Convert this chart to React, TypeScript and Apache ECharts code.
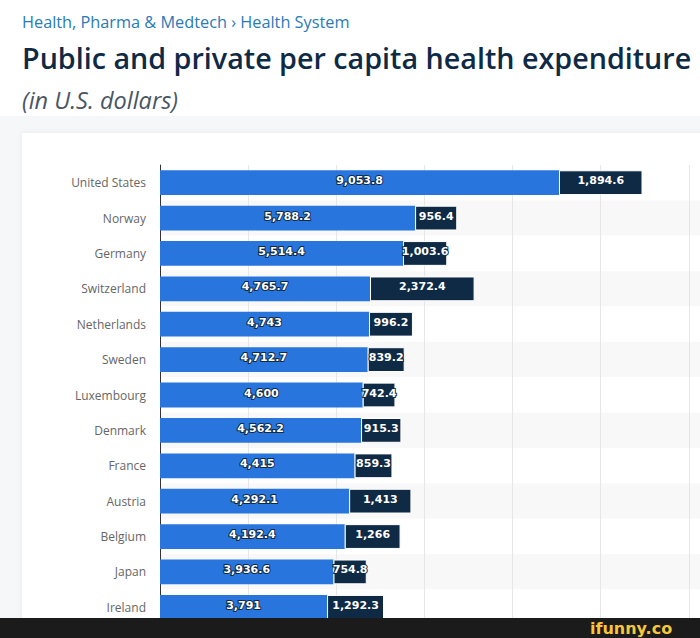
import React, { useEffect, useRef } from "react";
import * as echarts from "echarts";

const countries = [
  "United States", "Norway", "Germany", "Switzerland", "Netherlands", "Sweden",
  "Luxembourg", "Denmark", "France", "Austria", "Belgium", "Japan", "Ireland",
];
const publicSpend = [9053.8, 5788.2, 5514.4, 4765.7, 4743, 4712.7, 4600, 4562.2, 4415, 4292.1, 4192.4, 3936.6, 3791];
const privateSpend = [1894.6, 956.4, 1003.6, 2372.4, 996.2, 839.2, 742.4, 915.3, 859.3, 1413, 1266, 754.8, 1292.3];

const fmt = (v: number) => v.toLocaleString("en-US", { maximumFractionDigits: 1 });

const CHART_W = 780;

export default function App() {
  const ref = useRef<HTMLDivElement>(null);
  useEffect(() => {
    if (!ref.current) return;
    const chart = echarts.init(ref.current, null, { renderer: "svg" });
    const labelStyle = {
      show: true,
      position: "inside" as const,
      offset: [0, -2],
      color: "#ffffff",
      fontWeight: "bold" as const,
      fontSize: 11,
      fontFamily: "DejaVu Sans",
      textBorderColor: "#0f2a45",
      textBorderWidth: 2,
      formatter: (p: any) => fmt(p.value),
    };
    chart.setOption({
      animation: false,
      backgroundColor: "#ffffff",
      graphic: [
        { type: "rect", z: -20, shape: { x: 0, y: 116, width: CHART_W, height: 522 }, style: { fill: "#f5f7f9" } },
        {
          type: "rect", z: -19, shape: { x: 22, y: 133, width: CHART_W, height: 600 },
          style: { fill: "#ffffff", shadowBlur: 6, shadowColor: "rgba(0,0,0,0.06)" },
        },
        {
          type: "text", z: 10, x: 22, y: 22,
          style: { text: "Health, Pharma & Medtech \u203A Health System", fill: "#2a7ab8", font: "16.3px 'Open Sans'", textVerticalAlign: "middle" },
        },
        {
          type: "text", z: 10, x: 22, y: 57,
          style: { text: "Public and private per capita health expenditure", fill: "#0f2a45", font: "600 28.7px 'Open Sans'", textVerticalAlign: "middle" },
        },
        {
          type: "text", z: 10, x: 22, y: 100,
          style: { text: "(in U.S. dollars)", fill: "#4a5563", font: "italic 23.5px 'Open Sans'", textVerticalAlign: "middle" },
        },
        { type: "rect", z: 100, shape: { x: 0, y: 618, width: CHART_W, height: 20 }, style: { fill: "#1b1b1b" } },
        {
          type: "text", z: 101, x: 590, y: 628,
          style: { text: "ifunny.co", fill: "#f7c63a", font: "bold 16px 'DejaVu Sans'", textVerticalAlign: "middle" },
        },
      ],
      grid: { left: 160, right: CHART_W - 777, top: 165, height: 460, containLabel: false },
      xAxis: {
        type: "value", min: 0, max: 14000, interval: 2000,
        axisLabel: { show: false }, axisLine: { show: false }, axisTick: { show: false },
        splitLine: { show: true, lineStyle: { color: "#e6e6e6", width: 1 } },
      },
      yAxis: {
        type: "category", inverse: true, data: countries,
        axisLine: { show: true, lineStyle: { color: "#333333", width: 1 } },
        axisTick: { show: false },
        axisLabel: { color: "#666666", fontSize: 12, fontFamily: "'Open Sans'", margin: 14 },
        splitArea: { show: true, areaStyle: { color: ["#ffffff", "#f8f8f8"] } },
      },
      series: [
        {
          name: "Public", type: "bar", stack: "total", data: publicSpend, barCategoryGap: "30%",
          itemStyle: { color: "#2876dd" }, label: labelStyle,
        },
        {
          name: "Private", type: "bar", stack: "total", data: privateSpend, barCategoryGap: "30%",
          itemStyle: { color: "#0f2a45", borderColor: "#ffffff", borderWidth: 1 }, label: labelStyle,
        },
      ],
    });
    return () => chart.dispose();
  }, []);
  return (
    <div style={{ position: "fixed", left: 0, top: 0, width: 700, height: 638, overflow: "hidden" }}>
      <div ref={ref} style={{ width: CHART_W, height: 638 }} />
    </div>
  );
}
